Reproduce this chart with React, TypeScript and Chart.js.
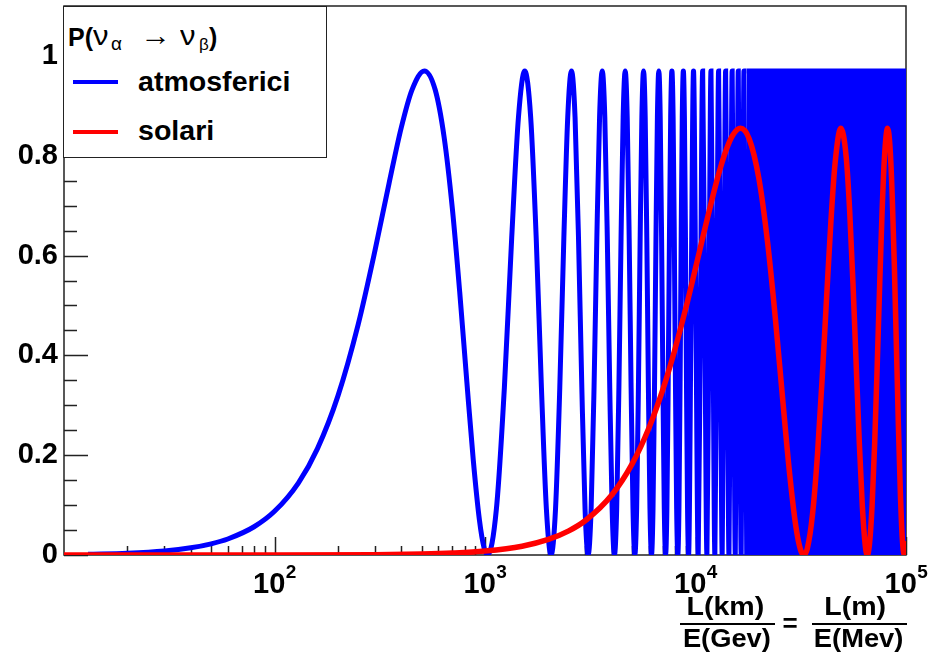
import React, { useEffect, useRef } from "react";
import { Chart, registerables } from "chart.js";
Chart.register(...registerables);

// atmospheric (blue) curve
const atmX = [
  13, 20, 30, 40, 50, 60, 80, 100, 130, 160, 200, 250, 300, 350, 400, 450, 515, 580, 640, 700, 760, 820, 880, 940, 990,
  1030, 1133, 1236, 1339, 1442, 1545, 1648, 1751, 1854, 1957,
  2060, 2163, 2266, 2369, 2472, 2575, 2678, 2781, 2884, 2987,
  3090, 3193, 3296, 3399, 3502, 3605, 3708, 3811, 3914, 4017,
  4120, 4223, 4326, 4429, 4532, 4635, 4738, 4841, 4944, 5047,
  5150, 5253, 5356, 5459, 5562, 5665, 5768, 5871, 5974, 6077,
  6180, 6283, 6386, 6489, 6592, 6695, 6798, 6901, 7004, 7107,
  7210, 7313, 7416, 7519, 7622, 7725, 7828, 7931, 8034, 8137,
  8240, 8343, 8446, 8549, 8652, 8755, 8858, 8961, 9064, 9167,
  9270, 9527, 9785, 10042,
  10300, 10557, 10815, 11072,
  11330, 11587, 11845, 12102,
  12360, 12617, 12875, 13132,
  13390, 13647, 13905, 14162,
  14420, 14677, 14935, 15192,
  15450, 15707, 15965, 16222,
  16480, 16737, 16995, 17252,
  17510,
];
const atmY = [
  0.0015, 0.0036, 0.0081, 0.0144, 0.0224, 0.0321, 0.0566, 0.0875, 0.1447, 0.2132, 0.3183, 0.4627, 0.6095, 0.7445, 0.8561, 0.9321, 0.97, 0.9321, 0.836, 0.6932, 0.5221, 0.3465, 0.1892, 0.0713, 0.0144,
  0, 0.0926, 0.3351, 0.6349, 0.8774, 0.97, 0.8774, 0.6349, 0.3351, 0.0926,
  0, 0.0926, 0.3351, 0.6349, 0.8774, 0.97, 0.8774, 0.6349, 0.3351, 0.0926,
  0, 0.0926, 0.3351, 0.6349, 0.8774, 0.97, 0.8774, 0.6349, 0.3351, 0.0926,
  0, 0.0926, 0.3351, 0.6349, 0.8774, 0.97, 0.8774, 0.6349, 0.3351, 0.0926,
  0, 0.0926, 0.3351, 0.6349, 0.8774, 0.97, 0.8774, 0.6349, 0.3351, 0.0926,
  0, 0.0926, 0.3351, 0.6349, 0.8774, 0.97, 0.8774, 0.6349, 0.3351, 0.0926,
  0, 0.0926, 0.3351, 0.6349, 0.8774, 0.97, 0.8774, 0.6349, 0.3351, 0.0926,
  0, 0.0926, 0.3351, 0.6349, 0.8774, 0.97, 0.8774, 0.6349, 0.3351, 0.0926,
  0, 0.485, 0.97, 0.485,
  0, 0.485, 0.97, 0.485,
  0, 0.485, 0.97, 0.485,
  0, 0.485, 0.97, 0.485,
  0, 0.485, 0.97, 0.485,
  0, 0.485, 0.97, 0.485,
  0, 0.485, 0.97, 0.485,
  0, 0.485, 0.97, 0.485,
  0,
];
// the dense (unresolved) oscillation region, a solid blue block
const atmBandX = [17510, 100000];
const atmBandY = [0.97, 0.97];

// solar (red) curve
const solX = [
  10, 100, 300, 500, 700, 1000, 1500, 2000, 2500, 3000, 4000, 5000, 6000, 7000, 8000, 9000, 10000, 11000, 12000, 13000, 14000, 15000, 16350,
  18000, 20000, 22000, 24000, 26000, 28000, 30000, 31500, 32700,
  34000, 36000, 38000, 40000, 42000, 44000, 46000, 49050, 52000, 54000, 56000, 58000, 60000, 62000, 64000, 65400,
  67000, 69000, 71000, 73000, 75000, 77000, 79000, 81750, 84000, 86000, 88000, 90000, 92000, 94000, 96000, 98100, 100000,
];
const solY = [
  0, 0.0001, 0.0007, 0.002, 0.0039, 0.0079, 0.0176, 0.0312, 0.0484, 0.0691, 0.1202, 0.1826, 0.254, 0.3318, 0.4134, 0.495, 0.5747, 0.6482, 0.7138, 0.7695, 0.8121, 0.8407, 0.855,
  0.8337, 0.7546, 0.6266, 0.4705, 0.3079, 0.1628, 0.0562, 0.0113, 0,
  0.0133, 0.0831, 0.2032, 0.356, 0.5193, 0.6693, 0.7835, 0.855, 0.797, 0.6896, 0.5436, 0.381, 0.225, 0.0987, 0.0202, 0,
  0.02, 0.0983, 0.2245, 0.3803, 0.543, 0.6891, 0.7967, 0.855, 0.8157, 0.7197, 0.5824, 0.4213, 0.2615, 0.1259, 0.0343, 0, 0.0282,
];

const xMajorTicks = [100, 1000, 10000, 100000];
const xMajorLabelBase = ["10", "10", "10", "10"];
const xMajorLabelExp = ["2", "3", "4", "5"];
const xMinorTicks = [
  20, 30, 40, 50, 60, 70, 80, 90, 200, 300, 400, 500, 600, 700, 800, 900,
  2000, 3000, 4000, 5000, 6000, 7000, 8000, 9000, 20000, 30000, 40000, 50000, 60000, 70000, 80000, 90000,
];
const yTicks = [0, 0.2, 0.4, 0.6, 0.8, 1];
const yTickLabels = ["0", "0.2", "0.4", "0.6", "0.8", "1"];
const yMinorTicks = [0.05, 0.1, 0.15, 0.25, 0.3, 0.35, 0.45, 0.5, 0.55, 0.65, 0.7, 0.75, 0.85, 0.9, 0.95, 1.05];

const FONT = '"Liberation Sans", Arial, sans-serif';

const framePlugin = {
  id: "rootFrame",
  beforeDatasetsDraw(chart: any) {
    const { ctx, chartArea, scales } = chart;
    const { left, right, top, bottom } = chartArea;
    const x = scales.x;
    const y = scales.y;
    ctx.save();
    ctx.strokeStyle = "#222";
    ctx.lineWidth = 1.5;
    ctx.strokeRect(left, top, right - left, bottom - top);
    ctx.beginPath();
    for (const v of xMajorTicks) {
      const px = Math.round(x.getPixelForValue(v)) + 0.5;
      ctx.moveTo(px, bottom);
      ctx.lineTo(px, bottom - 18);
    }
    for (const v of xMinorTicks) {
      const px = Math.round(x.getPixelForValue(v)) + 0.5;
      ctx.moveTo(px, bottom);
      ctx.lineTo(px, bottom - 9);
    }
    for (const v of yTicks) {
      const py = Math.round(y.getPixelForValue(v)) + 0.5;
      ctx.moveTo(left, py);
      ctx.lineTo(left + 24, py);
    }
    for (const v of yMinorTicks) {
      const py = Math.round(y.getPixelForValue(v)) + 0.5;
      ctx.moveTo(left, py);
      ctx.lineTo(left + 13, py);
    }
    ctx.stroke();
    ctx.restore();
  },
  afterDraw(chart: any) {
    // x tick labels "10" with a raised exponent
    const { ctx, chartArea, scales } = chart;
    const x = scales.x;
    const baseY = chartArea.bottom + 38;
    ctx.save();
    ctx.fillStyle = "#000";
    ctx.textBaseline = "alphabetic";
    ctx.textAlign = "left";
    xMajorTicks.forEach((v, i) => {
      const px = x.getPixelForValue(v);
      ctx.font = `bold 29px ${FONT}`;
      const w1 = ctx.measureText(xMajorLabelBase[i]).width;
      ctx.font = `bold 19px ${FONT}`;
      const w2 = ctx.measureText(xMajorLabelExp[i]).width;
      const start = px - (w1 + w2) / 2;
      ctx.font = `bold 29px ${FONT}`;
      ctx.fillText(xMajorLabelBase[i], start, baseY);
      ctx.font = `bold 19px ${FONT}`;
      ctx.fillText(xMajorLabelExp[i], start + w1 + 0.5, baseY - 15);
    });
    ctx.restore();
  },
};

// absolutely positioned text placed by its baseline
const txt = (
  left: number,
  baseline: number,
  content: React.ReactNode,
  opts: { size?: number; weight?: string; center?: boolean; width?: number; sx?: number } = {}
) => {
  const size = opts.size ?? 28;
  return (
    <div
      style={{
        position: "absolute",
        left,
        top: baseline - 0.8465 * size,
        width: opts.width,
        textAlign: opts.center ? "center" : "left",
        font: `${opts.weight ?? "bold"} ${size}px ${FONT}`,
        lineHeight: `${size}px`,
        whiteSpace: "nowrap",
        color: "#000",
      }}
    >
      <span
        style={{
          display: "inline-block",
          transform: `scaleX(${opts.sx ?? 1})`,
          transformOrigin: opts.center ? "center" : "left",
        }}
      >
        {content}
      </span>
    </div>
  );
};

export default function App() {
  const ref = useRef<HTMLCanvasElement | null>(null);

  useEffect(() => {
    if (!ref.current) return;
    const chart = new Chart(ref.current, {
      type: "line",
      data: {
        datasets: [
          {
            label: "solari",
            data: solX.map((x, i) => ({ x, y: solY[i] })),
            borderColor: "#ff0000",
            backgroundColor: "#ff0000",
            borderWidth: 5.5,
            pointRadius: 0,
            fill: false,
            cubicInterpolationMode: "monotone",
            order: 0,
          },
          {
            label: "atmosferici",
            data: atmX.map((x, i) => ({ x, y: atmY[i] })),
            borderColor: "#0000ff",
            backgroundColor: "#0000ff",
            borderWidth: 5,
            pointRadius: 0,
            fill: false,
            cubicInterpolationMode: "monotone",
            order: 1,
          },
          {
            label: "atmosferici (dense)",
            data: atmBandX.map((x, i) => ({ x, y: atmBandY[i] })),
            borderColor: "#0000ff",
            backgroundColor: "#0000ff",
            borderWidth: 5,
            pointRadius: 0,
            fill: "origin",
            order: 1,
          },
        ],
      },
      options: {
        animation: false,
        responsive: false,
        devicePixelRatio: 1,
        layout: { padding: { left: 0, top: 6, right: 33, bottom: 0 } },
        plugins: { legend: { display: false }, tooltip: { enabled: false } },
        scales: {
          x: {
            type: "logarithmic",
            min: 10,
            max: 100000,
            grid: { display: false, drawTicks: false },
            border: { display: false },
            afterBuildTicks: (scale: any) => {
              scale.ticks = xMajorTicks.map((v) => ({ value: v }));
            },
            afterFit: (scale: any) => {
              scale.height = 98;
              scale.paddingLeft = 0;
              scale.paddingRight = 0;
              scale.paddingTop = 0;
              scale.paddingBottom = 0;
            },
            ticks: { display: false, autoSkip: false },
          },
          y: {
            type: "linear",
            min: 0,
            max: 1.1,
            grid: { display: false, drawTicks: false },
            border: { display: false },
            afterBuildTicks: (scale: any) => {
              scale.ticks = yTicks.map((v) => ({ value: v }));
            },
            afterFit: (scale: any) => {
              scale.width = 64;
              scale.paddingLeft = 0;
              scale.paddingRight = 0;
              scale.paddingTop = 0;
              scale.paddingBottom = 0;
            },
            ticks: {
              autoSkip: false,
              padding: 6,
              color: "#000",
              font: { family: FONT, size: 29, weight: "bold" },
              callback: (_v: any, i: number) => yTickLabels[i],
            },
          },
        },
      } as any,
      plugins: [framePlugin],
    });
    return () => chart.destroy();
  }, []);

  return (
    <div style={{ position: "fixed", left: 0, top: 0, width: 939, height: 653, background: "#fff", overflow: "hidden" }}>
      <canvas ref={ref} width={939} height={653} style={{ display: "block", width: 939, height: 653 }} />
      {/* legend box */}
      <div
        style={{
          position: "absolute",
          left: 63,
          top: 6,
          width: 264,
          height: 152,
          boxSizing: "border-box",
          border: "1.5px solid #222",
          background: "#fff",
        }}
      />
      {txt(68, 46, "P(", { size: 25 })}
      {txt(93, 46, "ν", { size: 27, weight: "normal", sx: 1.15 })}
      {txt(111, 50, "α", { size: 19, weight: "normal" })}
      {txt(140, 46, "→", { size: 28, weight: "normal", sx: 1.1 })}
      {txt(180, 46, "ν", { size: 27, weight: "normal", sx: 1.15 })}
      {txt(199, 50, "β", { size: 17, weight: "normal" })}
      {txt(209, 46, ")", { size: 25 })}
      <div style={{ position: "absolute", left: 73, top: 80, width: 45, height: 4, background: "#0000ff" }} />
      {txt(138, 92, "atmosferici", { size: 28, sx: 1.02 })}
      <div style={{ position: "absolute", left: 73, top: 130, width: 45, height: 4, background: "#ff0000" }} />
      {txt(138, 141, "solari", { size: 28, sx: 1.02 })}
      {/* x axis title */}
      {txt(665, 615, "L(km)", { size: 26, center: true, width: 120, sx: 1.1 })}
      <div style={{ position: "absolute", left: 680, top: 623, width: 95, height: 2, background: "#000" }} />
      {txt(667, 647, "E(Gev)", { size: 26, center: true, width: 120, sx: 1.05 })}
      {txt(775, 632, "=", { size: 26, center: true, width: 30 })}
      {txt(795, 615, "L(m)", { size: 26, center: true, width: 120, sx: 1.1 })}
      <div style={{ position: "absolute", left: 812, top: 623, width: 95, height: 2, background: "#000" }} />
      {txt(799, 647, "E(Mev)", { size: 26, center: true, width: 120, sx: 1.05 })}
    </div>
  );
}
